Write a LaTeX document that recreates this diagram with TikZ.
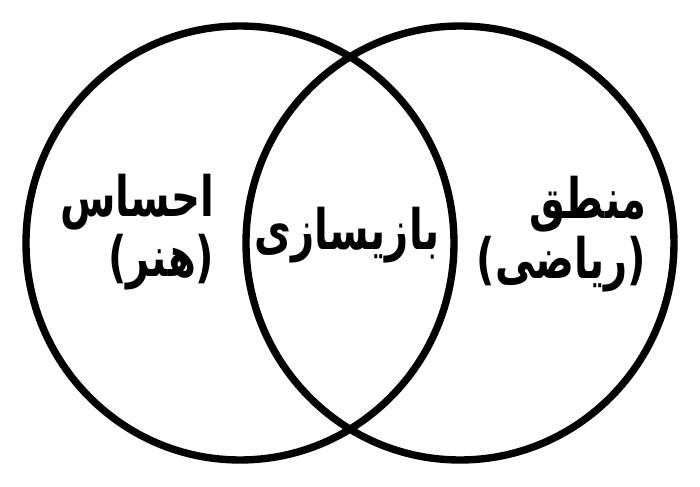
\documentclass[tikz,border=0pt]{standalone}
\usepackage{fontspec}
\newfontfamily\arabicfont[Script=Arabic]{DejaVu Sans}
\TeXXeTstate=1
\usepackage{tikz}

\begin{document}
\begin{tikzpicture}[every node/.style={font=\arabicfont\bfseries\fontsize{13}{12.8}\selectfont, align=right, inner sep=0pt, xscale=0.88, yscale=1.22, transform shape},
                    ring/.style={line width=2.1pt}]
                \useasboundingbox (0,0) rectangle (7,4.87);
                \coordinate (L) at (2.40,2.44);
                \coordinate (R) at (4.60,2.44);

                \draw[ring] (L) ellipse [x radius=2.14, y radius=2.17];
                \draw[ring] (R) ellipse [x radius=2.14, y radius=2.17];

                \node[anchor=east] (feel) at (2.15,2.55) {\beginR احساس\endR\\\beginR(هنر)\endR};
                \node (game) at (3.47,2.52) {\beginR بازیسازی\endR};
                \node[anchor=east] (logic) at (6.47,2.53) {\beginR منطق\endR\\\beginR(ریاضی)\endR};
            \end{tikzpicture}
\end{document}
